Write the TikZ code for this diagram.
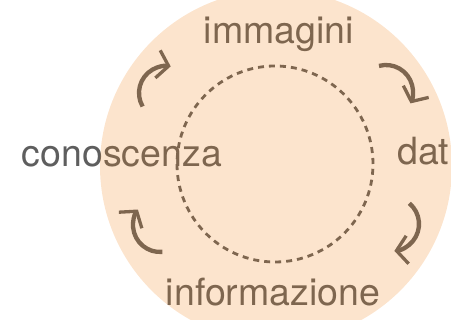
\documentclass[tikz,border=0pt]{standalone}
\usepackage{fontspec}
\setmainfont{TeX Gyre Heros}
\usetikzlibrary{arrows.meta}
\definecolor{testo}{RGB}{94,94,94}
\definecolor{velo}{RGB}{241,132,28}

\begin{document}
\begin{tikzpicture}[x=1pt,y=1pt,
	parola/.style={text=testo,font=\fontsize{37.5}{40}\selectfont,inner sep=0pt},
	giro/.style={draw=testo,line width=4.3pt,-{Straight Barb[length=11pt,width=28pt,line width=3.3pt]}}]
			\useasboundingbox (0,0) rectangle (451,320);
			\clip (0,0) rectangle (451,320);
			\node [parola, at={(279,276)}, anchor=base] (imm) {immagini};
			\node [parola, at={(397,155)}, anchor=base west] (dat) {dat};
			\node [parola, at={(273,14)}, anchor=base] (inf) {informazione};
			\node [parola, at={(122,153)}, anchor=base] (con) {conoscenza};
			\draw[giro] (166,227) ++(210:27) arc [start angle=210, end angle=80, radius=27];
			\draw[giro] (386,228) ++(105:27) arc [start angle=105, end angle=-25, radius=27];
			\draw[giro] (392,96) ++(50:27) arc [start angle=50, end angle=-85, radius=27];
			\draw[giro] (160,95) ++(275:27) arc [start angle=275, end angle=145, radius=27];
			\draw[testo, line width=2.8pt, dash pattern=on 6pt off 5pt] (275,156) circle (98);
			\fill[velo, opacity=0.22] (276,154) circle (176);
			\end{tikzpicture}
\end{document}
